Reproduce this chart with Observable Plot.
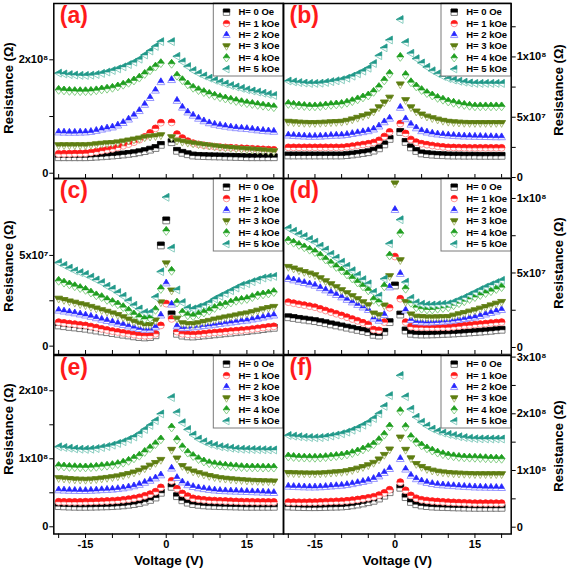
<!DOCTYPE html>
<html>
<head>
<meta charset="utf-8">
<script src="https://cdn.jsdelivr.net/npm/d3@7"></script>
<script src="https://cdn.jsdelivr.net/npm/@observablehq/plot@0.6"></script>
<style>
html,body{margin:0;padding:0;background:#fff;}
#fig{position:relative;width:567px;height:569px;overflow:hidden;background:#fff;}
#fig svg{position:absolute;}
.ylab{position:absolute;white-space:nowrap;font-family:'Liberation Sans',Arial,Helvetica,sans-serif;font-weight:bold;font-size:13px;line-height:13px;color:#000;transform:translate(-50%,-50%) rotate(-90deg);}
</style>
</head>
<body>
<div id="fig"></div>
<script>
// Voltage grid (V)
const voltage = [-20,-19,-18,-17,-16,-15,-14,-13,-12,-11,-10,-9,-8,-7,-6,-5,-4,-3,-2,-1,0,1,2,3,4,5,6,7,8,9,10,11,12,13,14,15,16,17,18,19,20];
const fieldNames = ["H= 0 Oe","H= 1 kOe","H= 2 kOe","H= 3 kOe","H= 4 kOe","H= 5 kOe"];
const panelLetters = ["(a)","(b)","(c)","(d)","(e)","(f)"];
const yAxisTitle = "Resistance (\u03A9)";
const xAxisTitle = "Voltage (V)";

// Resistance values in units of 10^6 Ohm
const a0 = [28.2,28.2,28.2,28.2,28.2,28.2,28.6,29.2,29.8,30.5,31.2,32,33,34.1,35.3,37,39,41.5,44.5,50,null,54.7,39.5,36,33.5,31.2,30.6,30.2,29.9,29.7,29.5,29.2,29,28.7,28.5,28.2,28.2,28.2,28.2,28.2,28.2];
const a1 = [34.2,34.3,34.5,34.8,35,35.3,36.5,38,39.7,41.3,43,45.5,48.3,51.3,54.7,59,64,71,79,89,null,89.5,69,62,56.5,52.9,50.8,49.2,47.9,46.8,45.9,45.4,44.9,44.4,44,43.6,43.1,42.6,42.1,41.7,41.3];
const a2 = [72.3,72,71.8,71.8,72,72.3,73.2,75,77.3,79.3,81.1,84.5,89,95,101.8,110,121,133,146,161,null,164.7,128,116,107.5,101.8,96.5,92,88.5,86,84.1,82.5,81,79.8,79,78.3,77.2,76,75,74.2,73.5];
const a3 = [48.9,48.9,48.9,48.9,48.9,48.9,49.5,50.5,51.5,52.3,52.9,54,55.5,57.2,58.9,60.7,62.8,64,65,66.5,null,63,57,55,53.3,51.9,50.6,49.4,48.2,47,45.9,45,44.1,43.3,42.5,41.8,41.1,40.4,39.7,39,38.3];
const a4 = [147,146,145.2,144.8,144.6,144.6,145,146.2,147.7,149,150.6,153,156,159.5,163.5,168.5,175,181.5,188,194,null,193,172,164,156.5,150.6,146.5,143,139.7,136.7,134,131.7,129.5,127.3,125.3,123.5,122,120.5,119,117.7,116.4];
const a5 = [176.4,175,173.8,173,172.5,172.3,172.8,174,176,178.3,181,184,187.5,191.5,195.8,201,208.5,215.5,223.5,232,null,232,206,196.5,188,181,176,171.5,167.5,163.8,160.5,157.5,154.5,152,149.5,147,145,143,141,139,137];

const b0 = [18.3,18.3,18.3,18.3,18.3,18.3,18.3,18.3,18.3,18.3,18.3,18.6,19.1,19.7,20.3,21,22.3,24.2,27.5,32,null,37.8,29.5,25,22,20,19.4,19,18.7,18.5,18.3,18.2,18.2,18.1,18.1,18.1,18,18,18,18,18];
const b1 = [25,25,25,25,25,25,25,25,25,25,25,25.4,26,26.7,27.3,28,29,30.8,34,37.8,null,44.7,36.5,31.5,29.3,28,27.2,26.5,25.9,25.4,25,24.9,24.8,24.7,24.6,24.6,24.6,24.6,24.6,24.6,24.6];
const b2 = [35,34.7,34.4,34.2,34,34,34.1,34.4,34.7,34.9,35,35.5,36.3,37,37.8,38.6,40,42.5,46,49,null,58,48.5,44,41,38.6,37.5,36.6,35.9,35.4,35,34.7,34.4,34.2,34.1,34,33.9,33.8,33.7,33.6,33.6];
const b3 = [46,45.6,45.3,45.1,45,45,45.1,45.3,45.6,45.8,46,46.8,48,49.3,50.7,52,54.5,58,62,66,null,77,64,58,54.5,52,50.3,49,47.8,46.8,46,45.6,45.3,45.1,45,45,45,45,45,45,45];
const b4 = [61,60.3,59.7,59.3,59,59,59.2,59.7,60.2,60.6,61,62,63.3,64.8,66.4,68,71,75,80.5,86,null,100,85,79,75.5,72.5,70,68,66,64.5,63,62,61,60.2,59.5,59,59,59,59,59,59];
const b5 = [80,79.3,78.7,78.3,78,78,78.2,78.8,79.5,80.2,81,82.3,84,86,88.2,90.6,94.5,101,107.5,114,null,131,112,103,98.5,95,91.5,88.5,86,83.8,82,80.8,79.8,79,78.4,78,78,78,78,78,78];

const c0 = [11.4,11,10.6,10.3,9.9,9.6,9.1,8.6,8.1,7.7,7.2,6.8,6.3,5.9,5.4,5,4.8,5,6,55.5,69.3,17.5,6.8,5.8,5.4,5.3,5.6,5.9,6.2,6.5,6.8,7.1,7.4,7.7,8,8.3,8.7,9,9.4,9.8,10.1];
const c1 = [13.2,12.8,12.4,12.1,11.7,11.4,10.8,10.2,9.5,8.9,8.3,7.8,7.3,6.8,6.3,5.9,5.7,5.8,6.8,11.4,23.4,15,8,6.8,6.5,6.4,6.6,6.9,7.2,7.5,7.7,8,8.3,8.5,8.8,9,9.4,9.8,10.2,10.6,10.9];
const c2 = [19.7,19.2,18.7,18.2,17.6,17,16.3,15.5,14.7,14,13.2,12.5,11.8,11,10.3,9.6,9.2,9.2,10.5,17,34.7,23,11,10,10.2,10.5,10.8,11.2,11.5,11.9,12.3,12.7,13.1,13.5,13.9,14.2,14.8,15.3,15.9,16.5,17];
const c3 = [26,25.3,24.5,23.8,23,22.4,21.5,20.6,19.7,18.8,17.9,17,15.8,14.5,13.3,12.3,11.5,11.5,14,24,45.5,30.5,15,12.5,12,12,12.5,13.2,13.8,14.5,15.1,15.7,16.2,16.8,17.4,17.9,18.6,19.4,20.2,20.9,21.5];
const c4 = [36,35,34,33,32,31,29.5,28,27,25.5,24.3,23,21.5,19.5,17.5,16,15,15.5,20,31.5,63.5,41.5,24,18.5,17,16.5,17.5,18.5,19.5,21,22.3,23,24,25,25.5,26,27,28,28.5,29,29.8];
const c5 = [46,44.5,43,41.5,40.5,39.5,38,36.5,35,33,31.5,29.5,27.5,25,22.5,20.5,18.5,18.5,27,41,82,54,31,24,21,20.5,21.5,22.5,24,26,27.5,29,30.5,32,33.5,34.4,35.5,36.5,37.5,38,38.4];

const d0 = [20.3,19.8,19.2,18.7,18.2,17.7,17,16.3,15.5,14.8,14.1,13.3,12.6,11.8,11.1,10.3,8.5,8,10.5,17,41.6,22.1,11.4,9.2,8.8,8.7,8.7,8.8,8.9,9.1,9.2,9.4,9.6,9.8,10.1,10.3,10.6,10.9,11.2,11.6,11.9];
const d1 = [30.4,29.7,29,28.4,27.7,27,25.9,24.8,23.7,22.6,21.5,20.3,19.1,17.9,16.6,15.4,12,11.5,17,26.6,61,32.7,17,14,13.6,13.6,13.5,13.5,13.5,13.6,13.6,13.9,14.3,14.7,15,15.4,15.7,16,16.4,16.7,17];
const d2 = [46.1,45.2,44.3,43.4,42.5,41.6,40,38.5,36.9,35.4,33.8,32.1,30.4,28.7,27,25.3,19.5,18.1,22,40.5,92.4,49.5,25,18.5,17.2,17,16.9,17,17.2,17.5,17.7,18.2,18.7,19.2,19.8,20.3,21.3,22.3,23.3,24.3,25.3];
const d3 = [53.9,52.8,51.6,50.5,49.4,48.3,46.3,44.3,42.3,40.3,38.3,36.3,34.3,32.3,30.2,28.2,22.6,21.5,28,47.7,109.9,58.4,30.4,22,20.5,20.3,20,20,20.1,20.2,20.3,21.2,22.1,23,23.9,24.8,25.9,27,28.1,29.2,30.4];
const d4 = [71.8,70.3,68.8,67.2,65.6,64,61.6,59,56.5,54,51.7,49,46.3,43.6,41,38.3,32,30.5,41,61.7,null,76.7,39.4,30,27,26,25.5,25.5,26,26.5,27,28.3,29.7,31,32.5,33.8,35.2,36.5,37.8,39.2,40.5];
const d5 = [80,78,76,74.5,72.5,70.7,68,65.5,62.5,60,57.2,54.5,51.5,48.5,45.5,42.7,37,34.5,46,69.6,null,85.7,43.8,33,30,29,28.5,28.5,28.7,29,29.3,30.5,32,33.5,35.3,37,38.8,40.5,42,43.5,45];

const e0 = [30.4,30,29.7,29.5,29.4,29.4,29.5,29.7,29.9,30.1,30.4,30.9,31.5,32.4,33.4,35,37,39.5,43,50,null,58.8,45,39,35.5,33.4,32.3,31.5,31,30.7,30.4,30.2,30,29.8,29.6,29.4,29.4,29.4,29.4,29.4,29.4];
const e1 = [36.8,36.7,36.6,36.6,36.6,36.8,37,37.3,37.6,37.9,38.2,38.8,39.6,40.6,41.8,43.3,45.5,48,51.5,57.9,null,67.6,56,49,45,41.8,40.5,39.6,38.9,38.5,38.2,37.9,37.6,37.3,37,36.8,36.7,36.6,36.6,36.5,36.5];
const e2 = [54,53.6,53.3,53.1,53,53,53.3,53.7,54.2,54.6,55,55.8,56.8,58.2,59.9,62,65,68,71.5,76,null,85.9,72,65.5,61.5,58.8,57,55.7,54.6,53.7,53,52.6,52.3,52,51.8,51.5,51.2,50.9,50.6,50.3,50];
const e3 = [71.2,70.5,69.8,69.2,68.9,68.7,69,69.7,70.6,71.5,72.6,73.8,75.5,77.3,79.4,82,85.5,89.5,93.5,98,null,112.8,100,89,84,80.9,78.5,76.3,74.3,72.6,71.2,70.3,69.5,68.8,68.2,67.6,67.2,66.9,66.6,66.4,66.2];
const e4 = [89.3,88.6,88,87.6,87.4,87.3,87.6,88.2,89,89.8,90.7,92.2,94.2,97,100.6,104.5,110,115.5,121.5,128.5,null,146,128,117,109,104,99.5,96,93.5,92,90.7,89.8,89,88.3,87.7,87.3,87.2,87.1,87,87,87];
const e5 = [117.6,116.5,115.5,114.5,114,113.8,114,115,116.5,118,120,122.5,125,128.5,132,137,143,149,156,166,null,190,168,153,143,135,129,125,121.5,119.5,117.6,116.5,115.5,114.5,114,113.8,113.5,113.3,113.2,113,113];

const f0 = [36.5,36,35.7,35.4,35.3,35.3,35.4,35.7,36,36.2,36.5,37.3,38.5,40,41.9,44.1,46.5,50.5,55.5,61.7,null,69.5,53,44.5,40.5,38.3,37.2,36.4,35.9,35.6,35.3,35,34.8,34.6,34.4,34.2,34.2,34.2,34.2,34.2,34.2];
const f1 = [44.1,44,43.9,43.9,44,44.1,44.4,44.8,45.2,45.6,45.9,46.6,47.6,48.8,50.2,51.8,53.6,56.5,60.5,66,null,79.4,65,56,51,48.3,47,46,45.3,44.7,44.1,43.7,43.3,43,42.6,42.3,42.3,42.3,42.3,42.3,42.3];
const f2 = [71.8,71.4,71,70.7,70.5,70.5,70.8,71.4,72.2,72.8,73.5,74.7,76.3,78.2,80.2,82.4,85.5,90,96,103,null,120.6,102,91,85,81.1,78.5,76.5,75,74.2,73.5,72.8,72.1,71.5,71,70.5,70.3,70.1,69.9,69.7,69.5];
const f3 = [95.2,94.8,94.5,94.3,94.1,94.1,94.3,94.9,95.6,96.3,97,98.4,100.3,102.8,105.6,108.8,113,119,127,136.5,null,157.6,136,121,111,105.8,102,99.3,97.4,96.2,95.2,94.5,94,93.6,93.3,93,93,93,93,93,93];
const f4 = [124.7,123.8,123.1,122.7,122.5,122.4,122.7,123.5,124.5,125.5,126.5,128.3,130.7,133.6,137,141,146,153.5,163,177.6,null,204.6,177,159,150,144,139,135,131.5,128.7,126.5,125,123.8,123,122.6,122.4,122,121.6,121.2,120.9,120.6];
const f5 = [161.7,160.5,159.5,158.5,158,157.6,158,159.2,160.7,162.5,164.7,167.5,171,175,179.8,185,191.5,200,213,232,null,267.5,230,208,194,185,178.5,173,169,166,163.5,161.5,159.5,158,156.8,155.9,155.7,155.6,155.5,155.5,155.5];

// Tick values (10^6 Ohm) and labels
const xTicks = [-20,-15,-10,-5,0,5,10,15,20];
const xTickLabels = ["","-15","","","0","","","15",""];
const aTicks = [0,100,200];            const aTickLabels = ["0","","2x10\u2078"];
const bTicks = [0,25,50,75,100,125];   const bTickLabels = ["0","","5x10\u2077","","1x10\u2078",""];
const cTicks = [0,25,50,75];           const cTickLabels = ["0","","5x10\u2077",""];
const dTicks = [0,25,50,75,100];       const dTickLabels = ["0","","5x10\u2077","","1x10\u2078"];
const eTicks = [0,50,100,150,200];     const eTickLabels = ["0","","1x10\u2078","","2x10\u2078"];
const fTicks = [0,50,100,150,200,250,300]; const fTickLabels = ["0","","1x10\u2078","","2x10\u2078","","3x10\u2078"];

// styling
const kinds = ["square","circle","up","down","diamond","left"];
const colors = ["#000000","#ff1a1a","#2626ff","#5e7d12","#1f9e1f","#22998a"];
const lightColors = ["#6e6e6e","#ff8a8a","#8c8cff","#a2b46a","#78c878","#7ec8ba"];
const FONT = "'Liberation Sans', Arial, Helvetica, sans-serif";

function makeSymbol(kind, half) {
  return {
    draw(ctx, size) {
      const s = Math.sqrt(size / Math.PI);
      const poly = pts => {
        ctx.moveTo(pts[0][0] * s, pts[0][1] * s);
        for (let i = 1; i < pts.length; i++) ctx.lineTo(pts[i][0] * s, pts[i][1] * s);
        ctx.closePath();
      };
      if (kind === "square") poly(half ? [[-1,-1],[1,-1],[1,0],[-1,0]] : [[-1,-1],[1,-1],[1,1],[-1,1]]);
      else if (kind === "circle") {
        ctx.moveTo(s, 0);
        if (half) ctx.arc(0, 0, s, 0, Math.PI, true);
        else ctx.arc(0, 0, s, 0, 2 * Math.PI);
        ctx.closePath();
      }
      else if (kind === "up") poly(half ? [[0,-1.2],[0.8,0.2],[-0.8,0.2]] : [[0,-1.2],[1.15,0.8],[-1.15,0.8]]);
      else if (kind === "down") poly(half ? [[-1.15,-0.8],[1.15,-0.8],[0.575,0.2],[-0.575,0.2]] : [[-1.15,-0.8],[1.15,-0.8],[0,1.2]]);
      else if (kind === "diamond") poly(half ? [[0,-1.3],[1,0],[-1,0]] : [[0,-1.3],[1,0],[0,1.3],[-1,0]]);
      else if (kind === "left") poly(half ? [[-1.2,0],[0.8,-1.15],[0.8,0]] : [[-1.2,0],[0.8,-1.15],[0.8,1.15]]);
    }
  };
}

function rowsOf(values) {
  return voltage.map((v, i) => ({v, r: values[i]})).filter(d => d.r != null);
}

// labelY: page y of the rotated axis title's centre
const panels = [
  {series: [a0,a1,a2,a3,a4,a5], domain: [-9.3, 299.3], ticks: aTicks, labels: aTickLabels, col: 0, row: 0, labelY: 88},
  {series: [b0,b1,b2,b3,b4,b5], domain: [-0.8, 144.3], ticks: bTicks, labels: bTickLabels, col: 1, row: 0, labelY: 90},
  {series: [c0,c1,c2,c3,c4,c5], domain: [-4.6, 92.4], ticks: cTicks, labels: cTickLabels, col: 0, row: 1, labelY: 266},
  {series: [d0,d1,d2,d3,d4,d5], domain: [-4.7, 113.4], ticks: dTicks, labels: dTickLabels, col: 1, row: 1, labelY: 263},
  {series: [e0,e1,e2,e3,e4,e5], domain: [-10.6, 251.9], ticks: eTicks, labels: eTickLabels, col: 0, row: 2, labelY: 429},
  {series: [f0,f1,f2,f3,f4,f5], domain: [-12, 302.8], ticks: fTicks, labels: fTickLabels, col: 1, row: 2, labelY: 446}
];

const colGeom = [
  {left: 0, width: 284, marginLeft: 53.3, marginRight: 1, labelX: 7.5},
  {left: 281, width: 286, marginLeft: 2, marginRight: 56.3, labelX: 558}
];
const rowGeom = [
  {top: 0, height: 180, marginTop: 3, marginBottom: 2},
  {top: 175, height: 181, marginTop: 3, marginBottom: 2},
  {top: 352, height: 217, marginTop: 3, marginBottom: 35.5}
];

const fig = document.getElementById("fig");
const xLabelMap = new Map(xTicks.map((t, i) => [t, xTickLabels[i]]));
const R = 3.4;

panels.forEach((p, pi) => {
  const cg = colGeom[p.col], rg = rowGeom[p.row];
  const side = p.col === 0 ? "left" : "right";
  const bottomRow = p.row === 2;
  const yLabelMap = new Map(p.ticks.map((t, i) => [t, p.labels[i]]));
  const marks = [];

  p.series.forEach((vals, si) => {
    const data = rowsOf(vals);
    marks.push(Plot.dot(data, {x: "v", y: "r", r: R, symbol: makeSymbol(kinds[si], false), fill: "white", stroke: lightColors[si], strokeWidth: 0.9}));
    marks.push(Plot.dot(data, {x: "v", y: "r", r: R, symbol: makeSymbol(kinds[si], true), fill: colors[si], stroke: colors[si], strokeWidth: 0.6}));
  });

  // legend box
  marks.push((index, scales, values, dims) => {
    const rect = document.createElementNS("http://www.w3.org/2000/svg", "rect");
    const w = 69.7, h = 73;
    rect.setAttribute("x", dims.width - dims.marginRight - w);
    rect.setAttribute("y", dims.marginTop);
    rect.setAttribute("width", w);
    rect.setAttribute("height", h);
    rect.setAttribute("fill", "white");
    rect.setAttribute("stroke", "#7a7a7a");
    rect.setAttribute("stroke-width", "1");
    return rect;
  });
  fieldNames.forEach((name, si) => {
    const dy = 8.7 + 11.4 * si;
    marks.push(Plot.dot([0], {frameAnchor: "top-right", dx: -57, dy, r: 3.2, symbol: makeSymbol(kinds[si], false), fill: "white", stroke: lightColors[si], strokeWidth: 0.9}));
    marks.push(Plot.dot([0], {frameAnchor: "top-right", dx: -57, dy, r: 3.2, symbol: makeSymbol(kinds[si], true), fill: colors[si], stroke: colors[si], strokeWidth: 0.6}));
    marks.push(Plot.text([name], {frameAnchor: "top-right", dx: -45, dy, text: d => d, textAnchor: "start", lineAnchor: "middle", fontSize: 9.5, fontWeight: "bold", fill: "black"}));
  });

  // panel letter
  marks.push(Plot.text([panelLetters[pi]], {frameAnchor: "top-left", dx: 6, dy: 3, text: d => d, textAnchor: "start", lineAnchor: "top", fontSize: 23, fontWeight: "bold", fill: "#ff1a1a"}));
  if (bottomRow) {
    marks.push(Plot.text([xAxisTitle], {frameAnchor: "bottom", dy: 26.5, text: d => d, lineAnchor: "middle", fontSize: 13.5, fontWeight: "bold", fill: "black"}));
  }
  marks.push(Plot.frame({stroke: "black", strokeWidth: 1.5}));

  const svg = Plot.plot({
    width: cg.width,
    height: rg.height,
    marginLeft: cg.marginLeft,
    marginRight: cg.marginRight,
    marginTop: rg.marginTop,
    marginBottom: rg.marginBottom,
    style: {background: "none", overflow: "visible", fontFamily: FONT, fontSize: "11px", fontWeight: "bold", color: "black"},
    x: {domain: [-20.9, 21.8], ticks: xTicks, tickFormat: d => bottomRow ? (xLabelMap.get(d) ?? "") : "", tickSize: bottomRow ? 4.5 : -4, tickPadding: 2, label: null, axis: "bottom"},
    y: {domain: p.domain, ticks: p.ticks, tickFormat: d => yLabelMap.get(d) ?? "", tickSize: 4, tickPadding: 1.5, label: null, axis: side},
    marks
  });
  svg.style.left = cg.left + "px";
  svg.style.top = rg.top + "px";
  svg.style.maxWidth = "none";
  fig.appendChild(svg);

  // rotated y-axis title
  const lab = document.createElement("div");
  lab.className = "ylab";
  lab.textContent = yAxisTitle;
  lab.style.left = cg.labelX + "px";
  lab.style.top = p.labelY + "px";
  fig.appendChild(lab);
});
</script>
</body>
</html>
